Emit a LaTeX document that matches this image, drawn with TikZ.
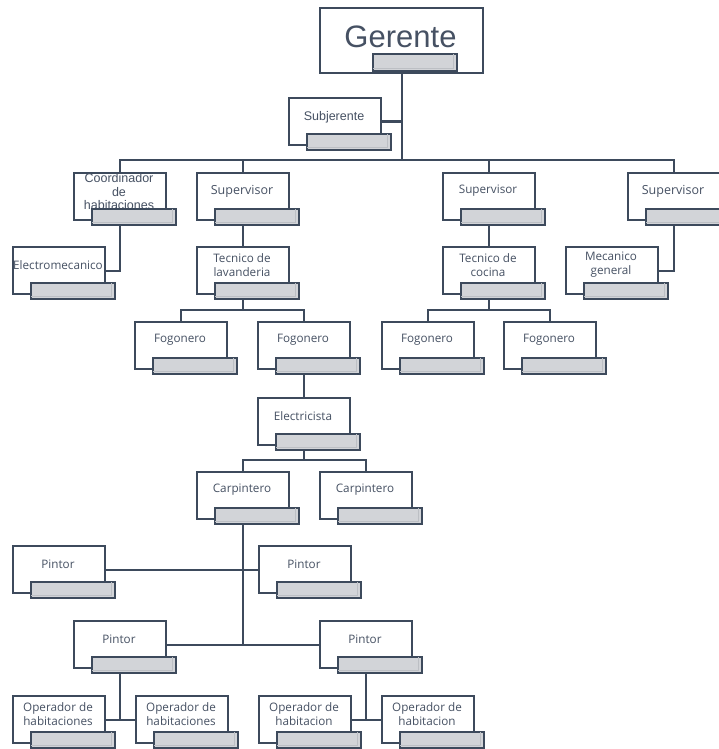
\documentclass[tikz,border=0pt]{standalone}
\usepackage{fontspec}
\setmainfont{Open Sans}
\newfontfamily\arialf{Liberation Sans}
\usetikzlibrary{backgrounds}
\definecolor{lc}{HTML}{3D4A5C}
\definecolor{tc}{HTML}{465163}
\definecolor{barc}{HTML}{D2D4D8}
\definecolor{bars}{HTML}{BCBFC4}
\tikzset{
 boxst/.style={rectangle, draw=lc, line width=2.4pt, fill=white, minimum width=92pt, minimum height=47pt, inner sep=0pt},
 barst/.style={rectangle, draw=lc, line width=2.4pt, fill=barc, minimum width=84pt, minimum height=16pt, inner sep=0pt},
 txt/.style={text=tc, font=\fontsize{11.7}{14}\selectfont, align=center, inner sep=0pt},
 conn/.style={draw=lc, line width=2.4pt},
 barshade/.style={draw=bars, line width=0.8pt}
}
\newcommand\orgbox[5][]{%
 \node[boxst, anchor=north west] (#2) at (#3,#4) {};
 \node[txt,#1] (#2t) at ([xshift=46pt,yshift=-19pt]#2.north west) {#5};
 \node[barst, anchor=north west] (#2b) at ([xshift=18pt,yshift=-36pt]#2.north west) {};
 \draw[barshade] ([xshift=-5pt,yshift=-1pt]#2b.north east) -- ([xshift=-5pt,yshift=4pt]#2b.south east) -- ([xshift=1pt,yshift=4pt]#2b.south west);
}
\begin{document}
\begin{tikzpicture}[x=1pt,y=-1pt]
\useasboundingbox (0,0) rectangle (718,749);
% Gerente
\node[boxst, minimum width=163pt, minimum height=65pt, anchor=north west] (ger) at (319,7) {};
\node[text=tc, font=\arialf\fontsize{31}{36}\selectfont, inner sep=0pt] (gert) at (400.5,37) {Gerente};
\node[barst, minimum height=17pt, anchor=north west] (gerb) at (372,53) {};
\draw[barshade] ([xshift=-5pt,yshift=-1pt]gerb.north east) -- ([xshift=-5pt,yshift=4pt]gerb.south east) -- ([xshift=1pt,yshift=4pt]gerb.south west);
% level 1
\orgbox[font=\arialf\fontsize{12.5}{14}\selectfont, yshift=-1pt]{subj}{288}{97}{Subjerente}
% level 2
\orgbox[font=\arialf\fontsize{12.5}{13.5}\selectfont, yshift=-1pt]{coord}{73}{172}{Coordinador\\de\\habitaciones}
\orgbox[font=\fontsize{12.5}{14}\selectfont]{sup1}{196}{172}{Supervisor}
\orgbox{sup2}{442}{172}{Supervisor}
\orgbox[font=\fontsize{12.5}{14}\selectfont]{sup3}{627}{172}{Supervisor}
% level 3
\orgbox{elec}{12}{246}{Electromecanico}
\orgbox{tlav}{196}{246}{Tecnico de\\lavanderia}
\orgbox{tcoc}{442}{246}{Tecnico de\\cocina}
\orgbox{mec}{565}{246}{Mecanico\\general}
% level 4
\orgbox{fog1}{134}{321}{Fogonero}
\orgbox{fog2}{257}{321}{Fogonero}
\orgbox{fog3}{381}{321}{Fogonero}
\orgbox{fog4}{503}{321}{Fogonero}
% lower
\orgbox{elc}{257}{397}{Electricista}
\orgbox{carp1}{196}{471}{Carpintero}
\orgbox{carp2}{319}{471}{Carpintero}
\orgbox{pl1}{12}{545}{Pintor}
\orgbox{pr1}{258}{545}{Pintor}
\orgbox{pl2}{73}{620}{Pintor}
\orgbox{pr2}{319}{620}{Pintor}
\orgbox{op1}{12}{695}{Operador de\\habitaciones}
\orgbox{op2}{135}{695}{Operador de\\habitaciones}
\orgbox{op3}{258}{695}{Operador de\\habitacion}
\orgbox{op4}{381}{695}{Operador de\\habitacion}
% connectors
\begin{pgfonlayer}{background}
\fill[white] (0,0) rectangle (718,749);
\coordinate (bus) at (ger.south |- 0,160);
\draw[conn] (ger.south) -- (bus);
\draw[conn] (coord.north) |- (bus) -| (sup3.north);
\draw[conn] (sup1.north) -- (sup1.north |- bus);
\draw[conn] (sup2.north) -- (sup2.north |- bus);
\draw[conn] (subj.east) -- (subj.east -| bus);
\draw[conn] (coord.south) |- (elec.east);
\draw[conn] (sup1.south) -- (tlav.north);
\draw[conn] (sup2.south) -- (tcoc.north);
\draw[conn] (sup3.south) |- (mec.east);
\coordinate (b2) at (tlav.south |- 0,310);
\draw[conn] (tlav.south) -- (b2);
\draw[conn] (fog1.north) |- (b2) -| (fog2.north);
\coordinate (b3) at (tcoc.south |- 0,310);
\draw[conn] (tcoc.south) -- (b3);
\draw[conn] (fog3.north) |- (b3) -| (fog4.north);
\draw[conn] (fog2.south) -- (elc.north);
\coordinate (b4) at (elc.south |- 0,460);
\draw[conn] (elc.south) -- (b4);
\draw[conn] (carp1.north) |- (b4) -| (carp2.north);
\coordinate (b5) at (carp1.south |- 0,645);
\draw[conn] (carp1.south) -- (b5);
\draw[conn] (pl1.east) -- (pr1.west);
\draw[conn] (pl2.east) -- (pr2.west);
\draw[conn] (pl2.south) -- (pl2.south |- op1.east);
\draw[conn] (op1.east) -- (op2.west);
\draw[conn] (pr2.south) -- (pr2.south |- op3.east);
\draw[conn] (op3.east) -- (op4.west);
\end{pgfonlayer}
\end{tikzpicture}
\end{document}
